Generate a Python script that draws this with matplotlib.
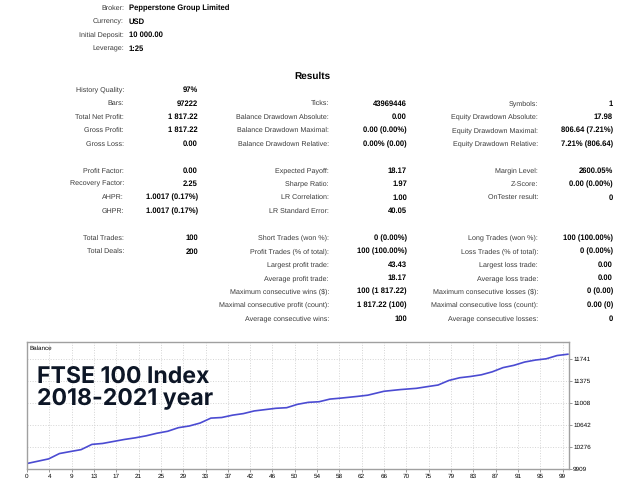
import matplotlib
matplotlib.use("Agg")
import matplotlib.pyplot as plt
import numpy as np

# header block
head_labels = ["Broker:", "Currency:", "Initial Deposit:", "Leverage:"]
head_values = ["Pepperstone Group Limited", "USD", "10 000.00", "1:25"]

# results table, one list per column (label / value)
col1_labels = ["History Quality:", "Bars:", "Total Net Profit:", "Gross Profit:", "Gross Loss:", "",
               "Profit Factor:", "Recovery Factor:", "AHPR:", "GHPR:", "",
               "Total Trades:", "Total Deals:"]
col1_values = ["97%", "97222", "1 817.22", "1 817.22", "0.00", "",
               "0.00", "2.25", "1.0017 (0.17%)", "1.0017 (0.17%)", "",
               "100", "200"]
col2_labels = ["", "Ticks:", "Balance Drawdown Absolute:", "Balance Drawdown Maximal:", "Balance Drawdown Relative:", "",
               "Expected Payoff:", "Sharpe Ratio:", "LR Correlation:", "LR Standard Error:", "",
               "Short Trades (won %):", "Profit Trades (% of total):", "Largest profit trade:", "Average profit trade:",
               "Maximum consecutive wins ($):", "Maximal consecutive profit (count):", "Average consecutive wins:"]
col2_values = ["", "43969446", "0.00", "0.00 (0.00%)", "0.00% (0.00)", "",
               "18.17", "1.97", "1.00", "40.05", "",
               "0 (0.00%)", "100 (100.00%)", "43.43", "18.17",
               "100 (1 817.22)", "1 817.22 (100)", "100"]
col3_labels = ["", "Symbols:", "Equity Drawdown Absolute:", "Equity Drawdown Maximal:", "Equity Drawdown Relative:", "",
               "Margin Level:", "Z-Score:", "OnTester result:", "", "",
               "Long Trades (won %):", "Loss Trades (% of total):", "Largest loss trade:", "Average loss trade:",
               "Maximum consecutive losses ($):", "Maximal consecutive loss (count):", "Average consecutive losses:"]
col3_values = ["", "1", "17.98", "806.64 (7.21%)", "7.21% (806.64)", "",
               "2600.05%", "0.00 (0.00%)", "0", "", "",
               "100 (100.00%)", "0 (0.00%)", "0.00", "0.00",
               "0 (0.00)", "0.00 (0)", "0"]

# balance curve
trades = [0, 4, 6, 8, 10, 12, 14, 16, 18, 20, 22, 24, 26, 28, 30, 32, 34, 36, 38, 40,
          42, 44, 46, 48, 50, 52, 54, 56, 58, 61, 63, 66, 69, 72, 74, 76, 78, 80, 82, 84,
          86, 88, 90, 92, 94, 96, 98, 100]
balance = [10000, 10077, 10166, 10199, 10231, 10318, 10334, 10367, 10400, 10427, 10460, 10503,
           10536, 10596, 10624, 10673, 10755, 10765, 10804, 10830, 10874, 10896, 10918, 10928,
           10984, 11017, 11027, 11071, 11087, 11115, 11136, 11201, 11229, 11250, 11278, 11305,
           11381, 11426, 11447, 11475, 11524, 11594, 11632, 11687, 11720, 11741, 11795, 11817]

x_labels = ["0", "4", "9", "13", "17", "21", "25", "29", "33", "37", "42", "46", "50", "54",
            "58", "62", "66", "70", "75", "79", "83", "87", "91", "95", "99"]
y_ticks = [9909, 10276, 10642, 11008, 11375, 11741]

W, H = 640, 480
plt.rcParams["font.family"] = ["Liberation Sans", "DejaVu Sans"]
plt.rcParams["text.hinting"] = "no_hinting"
fig = plt.figure(figsize=(6.4, 4.8), dpi=100)
fs_l = 5.1   # labels
fs_v = 5.5   # bold values
lab_c = "#3a3a3a"

def px(x, y):
    return x / W, 1 - y / H

# header
for i, (l, v) in enumerate(zip(head_labels, head_values)):
    y = 8 + 13.6 * i
    fig.text(*px(124, y), l, ha="right", va="center", fontsize=fs_l, color=lab_c)
    fig.text(*px(129, y), v, ha="left", va="center", fontsize=fs_v, weight="bold")

fig.text(*px(312, 76), "Results", ha="center", va="center", fontsize=7.2, weight="bold")

# table
cols = [(col1_labels, col1_values, 124, 198),
        (col2_labels, col2_values, 329, 407),
        (col3_labels, col3_values, 538, 613)]
for labels, values, lx, vx in cols:
    for k, (l, v) in enumerate(zip(labels, values)):
        y = 90 + 13.45 * k
        if l:
            fig.text(*px(lx, y), l, ha="right", va="center", fontsize=fs_l, color=lab_c)
        if v:
            fig.text(*px(vx, y), v, ha="right", va="center", fontsize=fs_v, weight="bold")

# balance chart
ax = fig.add_axes([27 / W, 1 - 469 / H, (569 - 27) / W, (469 - 342) / H])
ax.plot(trades, balance, color="#4b4bd2", lw=1.2)
ax.set_xlim(0, 100.2)
ax.set_ylim(9909, 12020)
ax.set_xticks(np.linspace(0, 99, len(x_labels)))
ax.set_xticklabels(x_labels)
ax.set_yticks(y_ticks)
ax.yaxis.tick_right()
ax.tick_params(labelsize=4.6, length=2, width=0.6, color="#888888", pad=1)
ax.grid(True, color="#d4d4d4", ls=":", lw=0.7)
for s in ax.spines.values():
    s.set_color("#a0a0a0")
    s.set_linewidth(1)
ax.text(0.004, 0.97, "Balance", transform=ax.transAxes, ha="left", va="top", fontsize=4.5)
ax.text(0.0185, 0.81, "FTSE 100 Index\n2018-2021 year", transform=ax.transAxes,
        ha="left", va="top", fontsize=16.6, weight="bold", family="Inter", color="#0d1626",
        linespacing=0.95)

fig.savefig("out.png", dpi=100)
